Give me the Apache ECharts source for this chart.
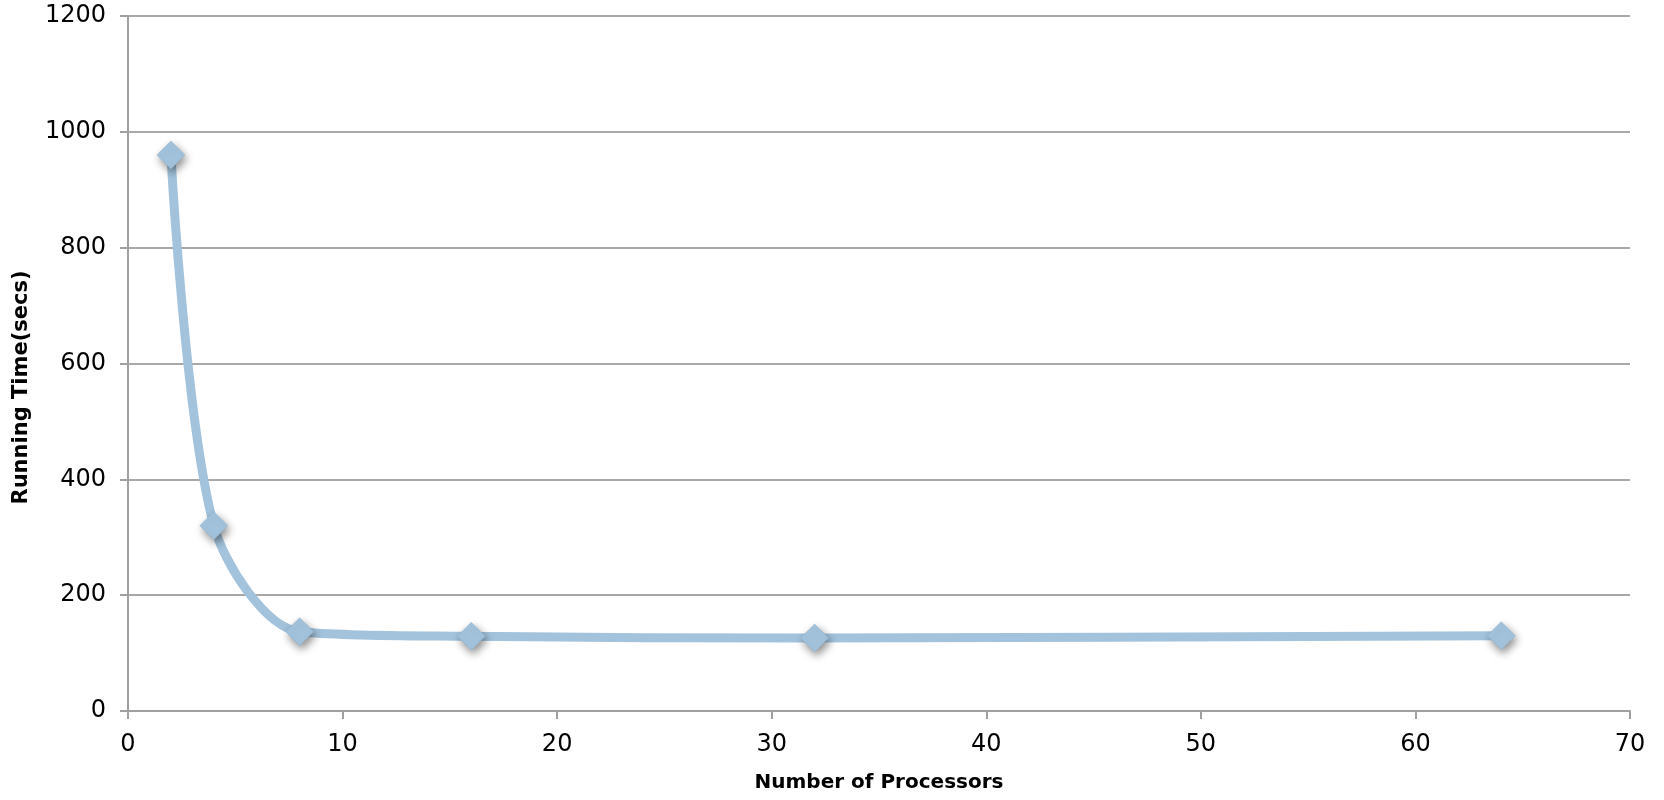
<!DOCTYPE html>
<html>
<head>
<meta charset="utf-8">
<script src="https://cdn.jsdelivr.net/npm/echarts@6/dist/echarts.min.js"></script>
<style>
html,body{margin:0;padding:0;background:#fff;}
#chart{width:1664px;height:800px;}
</style>
</head>
<body>
<div id="chart"></div>
<script>
const processors = [2, 4, 8, 16, 32, 64];
const runningTime = [960, 320, 137, 129, 126, 130];
const xTitle = 'Number of Processors';
const yTitle = 'Running Time(secs)';

const chart = echarts.init(document.getElementById('chart'));
const font = '"DejaVu Sans", sans-serif';
chart.setOption({
  animation: false,
  backgroundColor: '#ffffff',
  grid: { left: 128, right: 34, top: 16, bottom: 89 },
  xAxis: {
    type: 'value',
    min: 0, max: 70, interval: 10,
    name: xTitle,
    nameLocation: 'middle',
    nameGap: 62,
    nameTextStyle: { fontFamily: font, fontWeight: 'bold', fontSize: 20, color: '#000' },
    axisLine: { show: true, lineStyle: { color: '#a0a0a0', width: 2 } },
    axisTick: { show: true, length: 8, lineStyle: { color: '#a0a0a0', width: 2 } },
    axisLabel: { fontFamily: font, fontSize: 24, color: '#000', margin: 22 },
    splitLine: { show: false }
  },
  yAxis: {
    type: 'value',
    min: 0, max: 1200, interval: 200,
    name: yTitle,
    nameLocation: 'middle',
    nameGap: 96,
    nameTextStyle: { fontFamily: font, fontWeight: 'bold', fontSize: 21, color: '#000', padding: [0, 0, 0, -48] },
    axisLine: { show: true, lineStyle: { color: '#a0a0a0', width: 2 } },
    axisTick: { show: true, length: 8, lineStyle: { color: '#a0a0a0', width: 2 } },
    axisLabel: { fontFamily: font, fontSize: 24, color: '#000', margin: 22, formatter: v => String(v) },
    splitLine: { show: true, lineStyle: { color: '#a8a8a8', width: 2 } }
  },
  series: [{
    type: 'line',
    data: processors.map((p, i) => [p, runningTime[i]]),
    smooth: 0.3,
    symbol: 'diamond',
    symbolSize: 28,
    lineStyle: { color: '#a3c3dc', width: 9 },
    itemStyle: {
      color: '#a3c3dc',
      borderColor: '#8fb0cb',
      borderWidth: 0.5,
      shadowColor: 'rgba(0,0,0,0.45)',
      shadowBlur: 8,
      shadowOffsetX: 2,
      shadowOffsetY: 4
    },
    z: 3
  }]
});
</script>
</body>
</html>
